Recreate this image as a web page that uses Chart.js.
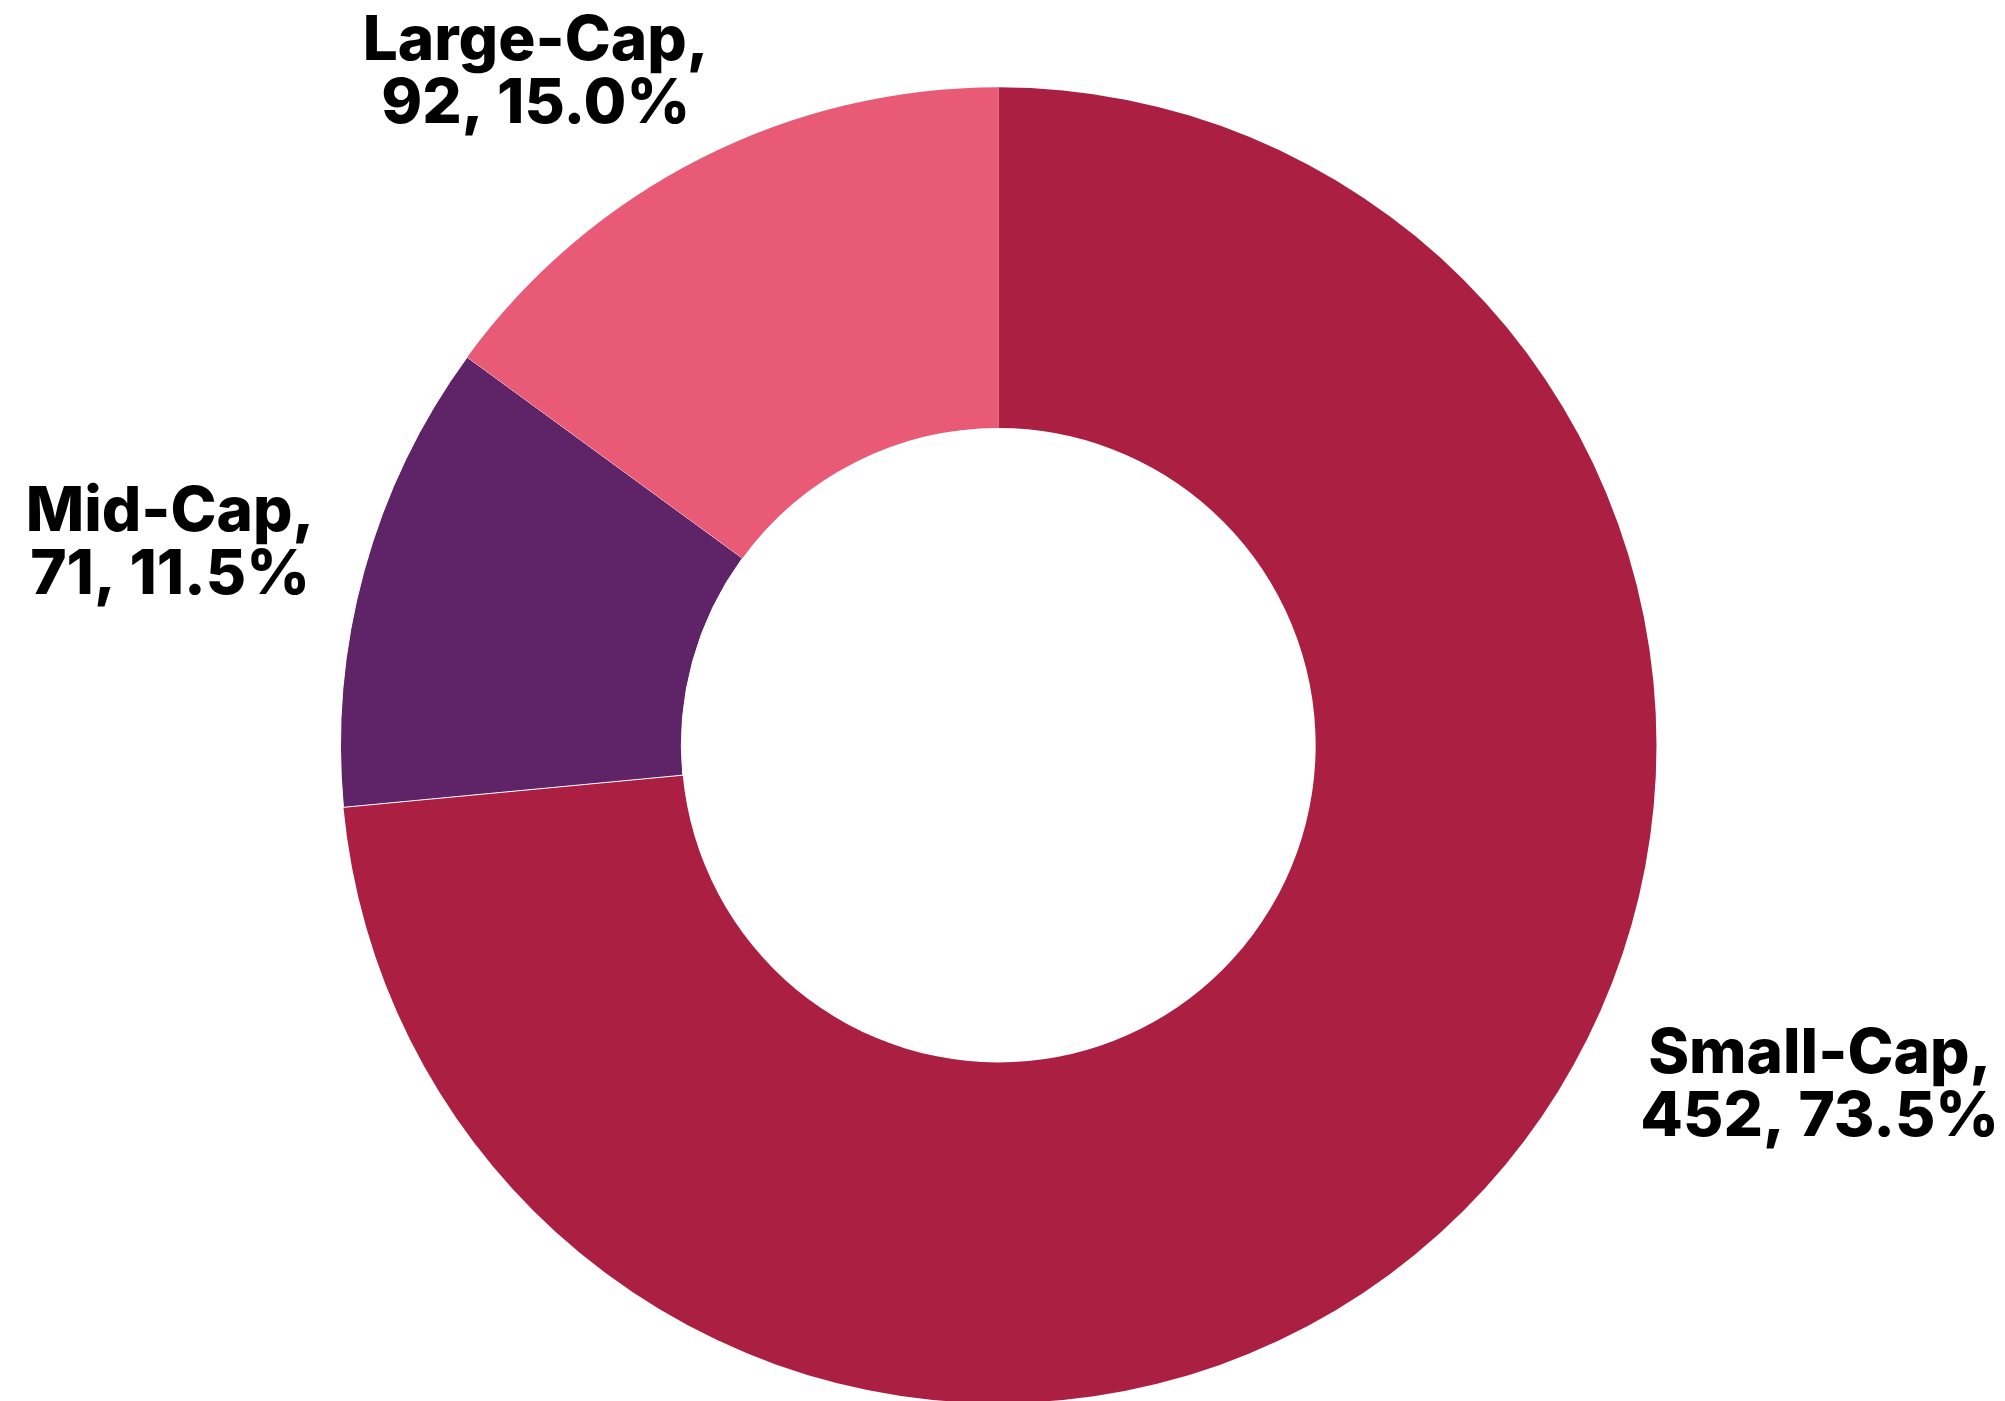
<!DOCTYPE html>
<html>
<head>
<meta charset="utf-8">
<title>Companies by market capitalisation</title>
<script src="https://cdn.jsdelivr.net/npm/chart.js@4/dist/chart.umd.min.js"></script>
<style>
  html, body { margin: 0; padding: 0; background: #ffffff; overflow: hidden; }
  #wrap { position: relative; width: 2005px; height: 1420px; }
</style>
</head>
<body>
<div id="wrap"><canvas id="chart"></canvas></div>
<script>
// Segment data, clockwise from 12 o'clock
const categories = ['Small-Cap', 'Mid-Cap', 'Large-Cap'];
const counts = [452, 71, 92];
const sliceColors = ['#AB1F42', '#5F2467', '#E85A76'];

// Where each outside label sits: angle (deg, clockwise from top) and distance as a multiple of the outer radius
const labelAngles = [112.3, 283.9, 325.6];
const labelDistances = [1.349, 1.297, 1.245];

const total = counts.reduce((a, b) => a + b, 0);

const outsideLabels = {
  id: 'outsideLabels',
  afterDatasetsDraw(chart, args, opts) {
    const meta = chart.getDatasetMeta(0);
    const ctx = chart.ctx;
    const fontSize = opts.fontSize;
    const lineHeight = opts.lineHeight;
    const capHeight = fontSize * 0.727;
    ctx.save();
    ctx.font = `800 ${fontSize}px Inter, "Liberation Sans", sans-serif`;
    ctx.fillStyle = '#000000';
    ctx.textAlign = 'center';
    ctx.textBaseline = 'alphabetic';
    meta.data.forEach((arc, i) => {
      const { x, y, outerRadius } = arc.getProps(['x', 'y', 'outerRadius'], true);
      const a = labelAngles[i] * Math.PI / 180;
      const d = outerRadius * labelDistances[i];
      const cx = x + d * Math.sin(a);
      const cy = y - d * Math.cos(a);
      const pct = (counts[i] / total * 100).toFixed(1);
      const line1 = categories[i] + ',';
      const line2 = counts[i] + ', ' + pct + '%';
      const base1 = cy + capHeight / 2 - lineHeight / 2;
      ctx.fillText(line1, cx, base1);
      ctx.fillText(line2, cx, base1 + lineHeight);
    });
    ctx.restore();
  }
};

new Chart(document.getElementById('chart'), {
  type: 'doughnut',
  data: {
    labels: categories,
    datasets: [{
      data: counts,
      backgroundColor: sliceColors,
      borderColor: '#ffffff',
      borderWidth: [0, 1, 0],
      hoverOffset: 0,
      offset: 0
    }]
  },
  options: {
    responsive: true,
    maintainAspectRatio: false,
    animation: false,
    cutout: '48.2%',
    rotation: 0,
    layout: { padding: { left: 340, right: 348, top: 86.5, bottom: 16 } },
    plugins: {
      legend: { display: false },
      tooltip: { enabled: false },
      outsideLabels: { fontSize: 62, lineHeight: 63 }
    },
    events: []
  },
  plugins: [outsideLabels]
});
</script>
</body>
</html>
